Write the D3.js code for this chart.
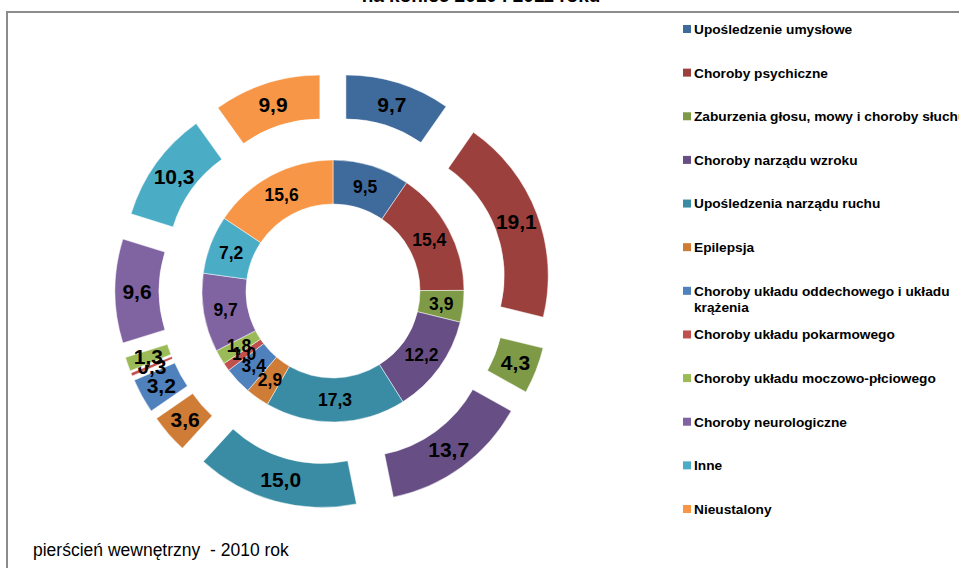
<!DOCTYPE html>
<html>
<head>
<meta charset="utf-8">
<script src="https://cdn.jsdelivr.net/npm/d3@7"></script>
<style>
  body { margin: 0; background: #fff; }
  svg { display: block; font-family: "Liberation Sans", Arial, sans-serif; }
</style>
</head>
<body>
<div id="chart"></div>
<script>
// Categories (legend order = slice order, clockwise from the top)
const categories = [
    'Upośledzenie umysłowe',
    'Choroby psychiczne',
    'Zaburzenia głosu, mowy i choroby słuchu',
    'Choroby narządu wzroku',
    'Upośledzenia narządu ruchu',
    'Epilepsja',
    'Choroby układu oddechowego i układu\nkrążenia',
    'Choroby układu pokarmowego',
    'Choroby układu moczowo-płciowego',
    'Choroby neurologiczne',
    'Inne',
    'Nieustalony'
];

// Inner ring - 2010, outer ring - 2011 (percent)
const values2010 = [9.5, 15.4, 3.9, 12.2, 17.3, 2.9, 3.4, 1.0, 1.8, 9.7, 7.2, 15.6];
const values2011 = [9.7, 19.1, 4.3, 13.7, 15.0, 3.6, 3.2, 0.3, 1.3, 9.6, 10.3, 9.9];

const colors = [
    '#3F6A9C', '#9C403E', '#7E9A47', '#674F86', '#3A8CA4', '#CF7C36',
    '#4F81BD', '#C0504D', '#9BBB59', '#8064A2', '#4BACC6', '#F79646'
];

const titleText = 'na koniec 2010 i 2011 roku';
const noteText = 'pierścień wewnętrzny  - 2010 rok';

const svgWidth = 959;
const svgHeight = 568;

const svg = d3.select('#chart')
    .append('svg')
    .attr('width', svgWidth)
    .attr('height', svgHeight);

// Chart frame (runs off the right and bottom edge)
svg.append('rect')
    .attr('x', 7)
    .attr('y', 12)
    .attr('width', 980)
    .attr('height', 600)
    .attr('fill', '#fff')
    .attr('stroke', '#8c8c8c')
    .attr('stroke-width', 2);

// Title, mostly cut off at the top
svg.append('text')
    .attr('x', 481)
    .attr('y', 1.5)
    .attr('text-anchor', 'middle')
    .style('font-size', '19px')
    .style('font-weight', 'bold')
    .text(titleText);

const cx = 333, cy = 291;
const innerR = [87, 131];
const outerR = [131, 175];
const explode = 43;

const pie = d3.pie().sort(null).value(d => d);
const fmt = v => d3.format('.1f')(v).replace('.', ',');

const g = svg.append('g').attr('transform', `translate(${cx}, ${cy})`);

// Inner ring (2010)
const arcIn = d3.arc().innerRadius(innerR[0]).outerRadius(innerR[1]);
const inner = g.append('g');
inner.selectAll('path')
    .data(pie(values2010))
    .enter()
    .append('path')
    .attr('d', arcIn)
    .attr('fill', (d, i) => colors[i])
    .attr('stroke', '#fff')
    .attr('stroke-width', 0.5);
inner.selectAll('text')
    .data(pie(values2010))
    .enter()
    .append('text')
    .attr('transform', d => `translate(${arcIn.centroid(d)})`)
    .attr('text-anchor', 'middle')
    .attr('dy', '0.36em')
    .style('font-size', '17.5px')
    .style('font-weight', 'bold')
    .text(d => fmt(d.data));

// Outer ring (2011), every slice pulled out along its bisector
const arcOut = d3.arc().innerRadius(outerR[0]).outerRadius(outerR[1]);
const shift = d => {
    const a = (d.startAngle + d.endAngle) / 2;
    return [explode * Math.sin(a), -explode * Math.cos(a)];
};
const outer = g.append('g');
const outerSlices = outer.selectAll('g')
    .data(pie(values2011))
    .enter()
    .append('g')
    .attr('transform', d => `translate(${shift(d)})`);
outerSlices.append('path')
    .attr('d', arcOut)
    .attr('fill', (d, i) => colors[i])
    .attr('stroke', '#fff')
    .attr('stroke-width', 0.5);
outerSlices.append('text')
    .attr('transform', d => `translate(${arcOut.centroid(d)})`)
    .attr('text-anchor', 'middle')
    .attr('dy', '0.36em')
    .style('font-size', '21px')
    .style('font-weight', 'bold')
    .text(d => fmt(d.data));

// Legend
const legendY = d3.scaleLinear().domain([0, categories.length - 1]).range([29, 509]);
const legend = svg.append('g');
const items = legend.selectAll('g')
    .data(categories)
    .enter()
    .append('g')
    .attr('transform', (d, i) => `translate(683, ${legendY(i)})`);
items.append('rect')
    .attr('x', 0)
    .attr('y', -4)
    .attr('width', 8)
    .attr('height', 8)
    .attr('fill', (d, i) => colors[i]);
items.append('text')
    .attr('x', 11)
    .attr('y', 0)
    .style('font-size', '13.7px')
    .style('font-weight', 'bold')
    .each(function(d) {
        const lines = d.split('\n');
        d3.select(this).selectAll('tspan')
            .data(lines)
            .enter()
            .append('tspan')
            .attr('x', 11)
            .attr('dy', (l, j) => j === 0 ? '0.36em' : '1.2em')
            .text(l => l);
    });

// Note below the chart
svg.append('text')
    .attr('x', 33)
    .attr('y', 556)
    .style('font-size', '17.5px')
    .style('white-space', 'pre')
    .text(noteText);
</script>
</body>
</html>
